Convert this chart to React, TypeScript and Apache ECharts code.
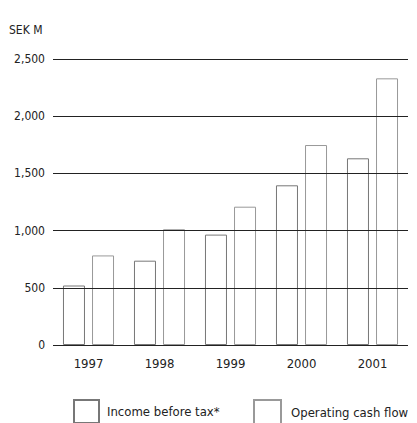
import React, { useEffect, useRef } from "react";
import * as echarts from "echarts";

const years = ["1997", "1998", "1999", "2000", "2001"];
const incomeBeforeTax = [520, 737, 965, 1396, 1632];
const operatingCashFlow = [783, 1012, 1209, 1748, 2331];
const seriesNames = ["Income before tax*", "Operating cash flow"];
const unitLabel = "SEK M";

const FONT = "'DejaVu Sans Condensed', 'Liberation Sans Narrow', 'Liberation Sans', sans-serif";

export default function App() {
  const ref = useRef<HTMLDivElement>(null);
  useEffect(() => {
    if (!ref.current) return;
    const chart = echarts.init(ref.current, null, { renderer: "svg" });
    const barStyle = {
      color: "rgba(255,255,255,0)",
      borderColor: "#777",
      borderWidth: 1,
    };
    chart.setOption({
      animation: false,
      backgroundColor: "#fff",
      graphic: [
        {
          type: "text",
          left: 9,
          top: 24,
          style: { text: unitLabel, font: `12px ${FONT}`, fill: "#222" },
        },
      ],
      legend: [
        {
          data: [seriesNames[0]],
          left: 68,
          top: 394,
          icon: "rect",
          itemWidth: 25,
          itemHeight: 23,
          textStyle: { fontFamily: FONT, fontSize: 13, color: "#222", padding: [8, 0, 0, 3] },
        },
        {
          data: [seriesNames[1]],
          left: 248,
          top: 394,
          icon: "rect",
          itemWidth: 27,
          itemHeight: 24,
          textStyle: { fontFamily: FONT, fontSize: 13, color: "#222", padding: [8, 0, 0, 5] },
        },
      ],
      grid: { left: 53, right: 9, top: 59, bottom: 78 },
      xAxis: {
        type: "category",
        data: years,
        axisLine: { show: false },
        axisTick: { show: false },
        axisLabel: { fontFamily: FONT, fontSize: 13, color: "#222", margin: 12 },
      },
      yAxis: {
        type: "value",
        min: 0,
        max: 2500,
        interval: 500,
        axisLine: { show: false },
        axisTick: { show: false },
        axisLabel: {
          fontFamily: FONT,
          fontSize: 12,
          color: "#222",
          margin: 8,
          formatter: (v: number) => v.toLocaleString("en-US"),
        },
        splitLine: { show: true, lineStyle: { color: "#222", width: 1 } },
        z: 5,
      },
      series: [
        {
          name: seriesNames[0],
          type: "bar",
          data: incomeBeforeTax,
          barWidth: 22,
          barGap: "32%",
          itemStyle: barStyle,
          z: 1,
        },
        {
          name: seriesNames[1],
          type: "bar",
          data: operatingCashFlow,
          barWidth: 22,
          itemStyle: { ...barStyle, borderColor: "#999" },
          z: 1,
        },
      ],
    });
    return () => chart.dispose();
  }, []);
  return (
    <div
      ref={ref}
      style={{ position: "absolute", left: 0, top: 0, width: 417, height: 423 }}
    />
  );
}
